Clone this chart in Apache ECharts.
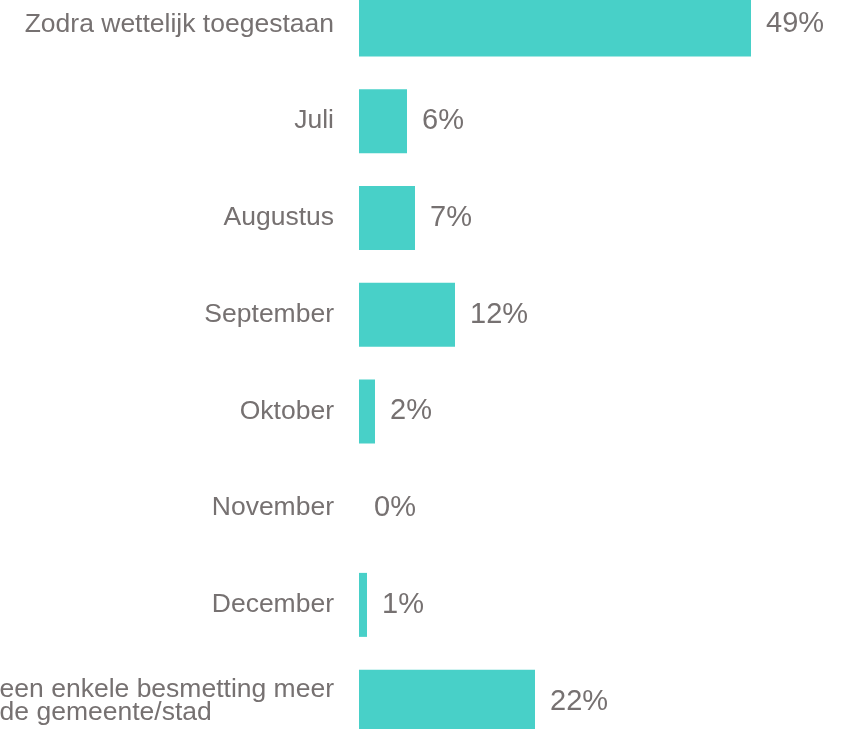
<!DOCTYPE html>
<html>
<head>
<meta charset="utf-8">
<script src="https://cdn.jsdelivr.net/npm/echarts@6/dist/echarts.min.js"></script>
<style>
  html, body { margin: 0; padding: 0; background: #fff; }
  #chart { width: 847px; height: 729px; }
</style>
</head>
<body>
<div id="chart"></div>
<script>
// data
const categories = [
    'Zodra wettelijk toegestaan',
    'Juli',
    'Augustus',
    'September',
    'Oktober',
    'November',
    'December',
    'een enkele besmetting meer\nde gemeente/stad'
];
const values = [49, 6, 7, 12, 2, 0, 1, 22];

const textColor = '#767171';
const barColor = '#48D0C8';
const font = "'Liberation Sans', Arial, sans-serif";

let chart = echarts.init(document.getElementById('chart'));
let option = {
    animation: false,
    grid: {left: 359, right: 8, top: -24, bottom: -21, outerBoundsMode: 'none'},
    xAxis: {
        type: 'value',
        min: 0,
        max: 60,
        show: false
    },
    yAxis: {
        type: 'category',
        inverse: true,
        data: categories,
        axisLine: {show: false},
        axisTick: {show: false},
        axisLabel: {
            margin: 25,
            color: textColor,
            fontFamily: font,
            fontSize: 26.5,
            // multi line label keeps its lines left aligned
            formatter(v) {
                if (v.indexOf('\n') < 0) return v;
                return v.split('\n').map(s => '{l|' + s + '}').join('\n');
            },
            rich: {
                l: {
                    align: 'left',
                    color: textColor,
                    fontFamily: font,
                    fontSize: 26.5,
                    lineHeight: 23
                }
            }
        }
    },
    series: [
        {
            type: 'bar',
            data: values,
            barWidth: 64,
            itemStyle: {color: barColor},
            label: {
                show: true,
                position: 'right',
                distance: 15,
                color: textColor,
                fontFamily: font,
                fontSize: 29,
                formatter: '{c}%'
            }
        }
    ]
};
chart.setOption(option);
</script>
</body>
</html>
